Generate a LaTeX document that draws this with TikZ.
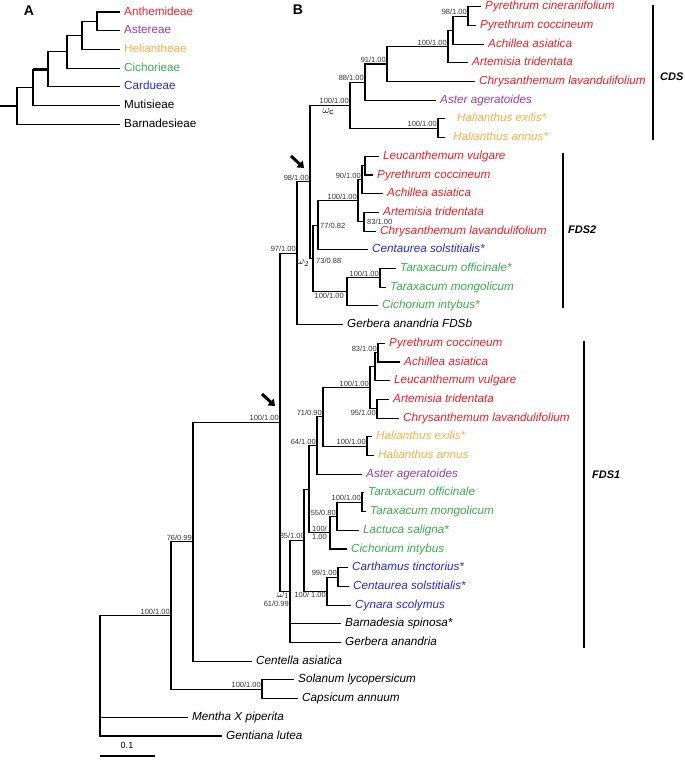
\documentclass[tikz,border=0pt]{standalone}
\usepackage{fontspec}
\setmainfont{Liberation Sans}
\usetikzlibrary{arrows.meta}

\definecolor{anth}{RGB}{236,32,40}
\definecolor{aste}{RGB}{155,60,165}
\definecolor{heli}{RGB}{247,176,72}
\definecolor{cich}{RGB}{60,172,78}
\definecolor{card}{RGB}{40,40,228}

\begin{document}
\begin{tikzpicture}[x=1pt, y=-1pt,
    br/.style={line width=1.1pt},
    thickbr/.style={line width=2.4pt},
    taxon/.style={anchor=west, inner xsep=4pt, inner ysep=0pt, text height=8pt, text depth=2pt, font=\fontsize{11.7}{13}\selectfont\itshape},
    tribe/.style={taxon, font=\fontsize{11.7}{13}\selectfont},
    bs/.style={anchor=south east, inner sep=1pt, font=\fontsize{7.5}{8}\selectfont, text=black!80},
    bsbelow/.style={bs, anchor=north east},
    bsright/.style={bs, anchor=west},
    omega/.style={inner sep=0pt, anchor=north east, font=\fontsize{11}{12}\selectfont},
    dup/.style={anchor=west, inner sep=0pt, font=\fontsize{11}{12}\selectfont\bfseries\itshape},
    pmark/.style={font=\fontsize{14}{14}\selectfont\bfseries},
    hint/.style={-{Triangle[length=6pt,width=9pt]}, line width=3pt}
]
\useasboundingbox (0,0) rectangle (685,761);

% panel A
\node[pmark] (labA) at (29,11) {A};
\coordinate (aRs) at (0,105.8);
\coordinate (aR) at (17,105.8);
\coordinate (a5) at (33,87.4);
\coordinate (a4) at (48,69.3);
\coordinate (a3) at (67,51.7);
\coordinate (a2) at (82,35.4);
\coordinate (a1) at (97,21.35);
\node[tribe, text=anth] (tAnth) at (120,12) {Anthemideae};
\node[tribe, text=aste] (tAste) at (120,30.7) {Astereae};
\node[tribe, text=heli] (tHeli) at (120,49.4) {Heliantheae};
\node[tribe, text=cich] (tCich) at (120,68.1) {Cichorieae};
\node[tribe, text=card] (tCard) at (120,86.8) {Cardueae};
\node[tribe] (tMuti) at (120,105.5) {Mutisieae};
\node[tribe] (tBarn) at (120,124.2) {Barnadesieae};

\draw[thickbr] (aRs) -- (aR);
\draw[br] (aR) |- (a5);
\draw[br] (aR) |- (tBarn.west);
\draw[br] (a5) |- (tMuti.west);
\draw[br] (a5) -- (a5 |- a4);
\draw[thickbr] (a5 |- a4) -- (a4);
\draw[br] (a4) |- (a3);
\draw[br] (a4) |- (tCard.west);
\draw[br] (a3) |- (a2);
\draw[br] (a3) |- (tCich.west);
\draw[br] (a2) |- (a1);
\draw[br] (a2) |- (tHeli.west);
\draw[br] (a1) |- (tAnth.west);
\draw[br] (a1) |- (tAste.west);

% panel B
\node[pmark] (labB) at (298,10) {B};

\coordinate (c1) at (468,16.05);
\coordinate (c2) at (453,30.1);
\coordinate (c3) at (448,46.45);
\coordinate (c4) at (387,63.98);
\coordinate (c5) at (365,82.09);
\coordinate (c6) at (438,128.25);
\coordinate (wc) at (350,105.17);
\coordinate (f1) at (365,165.65);
\coordinate (f2) at (362,179.68);
\coordinate (f3) at (364,221.75);
\coordinate (f4) at (358,200.7);
\coordinate (f5) at (318,225.25);
\coordinate (f6) at (380,277.85);
\coordinate (f7) at (347,291.88);
\coordinate (w2) at (313,258.56);
\coordinate (n98) at (310,181.87);
\coordinate (n97) at (297,253.2);
\coordinate (g1) at (378,352.65);
\coordinate (g2) at (375,366.68);
\coordinate (g3) at (377,408.75);
\coordinate (g4) at (370,387.7);
\coordinate (g5) at (367,446.15);
\coordinate (g6) at (323,416.9);
\coordinate (g7) at (317,445.55);
\coordinate (h1) at (362,502.25);
\coordinate (h2) at (337,516.3);
\coordinate (h3) at (330,532.65);
\coordinate (gx) at (309,489.1);
\coordinate (k1) at (338,577.05);
\coordinate (k2) at (327,591.08);
\coordinate (n85) at (304,540.09);
\coordinate (w1) at (290,591.3);
\coordinate (nAst) at (280,422.25);
\coordinate (n76) at (193,541.7);
\coordinate (s1) at (262,689.25);
\coordinate (n100) at (171,615.5);
\coordinate (root) at (100,675.75);

\node[taxon, text=anth] (cPcin) at (481,6.7) {Pyrethrum cinerariifolium};
\node[taxon, text=anth] (cPcoc) at (476,25.4) {Pyrethrum coccineum};
\node[taxon, text=anth] (cAchi) at (484,44.1) {Achillea asiatica};
\node[taxon, text=anth] (cArte) at (468,62.8) {Artemisia tridentata};
\node[taxon, text=anth] (cChry) at (475,81.5) {Chrysanthemum lavandulifolium};
\node[taxon, text=aste] (cAste) at (436,100.2) {Aster ageratoides};
\node[taxon, text=heli] (cHexi) at (453,118.9) {Halianthus exilis*};
\node[taxon, text=heli] (cHann) at (449,137.6) {Halianthus annus*};

\node[taxon, text=anth] (dLeuc) at (379,156.3) {Leucanthemum vulgare};
\node[taxon, text=anth] (dPcoc) at (373,175.0) {Pyrethrum coccineum};
\node[taxon, text=anth] (dAchi) at (383,193.7) {Achillea asiatica};
\node[taxon, text=anth] (dArte) at (379,212.4) {Artemisia tridentata};
\node[taxon, text=anth] (dChry) at (376,231.1) {Chrysanthemum lavandulifolium};
\node[taxon, text=card] (dCent) at (368,249.8) {Centaurea solstitialis*};
\node[taxon, text=cich] (dToff) at (396,268.5) {Taraxacum officinale*};
\node[taxon, text=cich] (dTmon) at (386,287.2) {Taraxacum mongolicum};
\node[taxon, text=cich] (dCich) at (378,305.9) {Cichorium intybus*};
\node[taxon] (dGerb) at (343,324.6) {Gerbera anandria FDSb};

\node[taxon, text=anth] (ePcoc) at (385,343.3) {Pyrethrum coccineum};
\node[taxon, text=anth] (eAchi) at (400,362.0) {Achillea asiatica};
\node[taxon, text=anth] (eLeuc) at (390,380.7) {Leucanthemum vulgare};
\node[taxon, text=anth] (eArte) at (389,399.4) {Artemisia tridentata};
\node[taxon, text=anth] (eChry) at (399,418.1) {Chrysanthemum lavandulifolium};
\node[taxon, text=heli] (eHexi) at (372,436.8) {Halianthus exilis*};
\node[taxon, text=heli] (eHann) at (374,455.5) {Halianthus annus};
\node[taxon, text=aste] (eAste) at (362,474.2) {Aster ageratoides};
\node[taxon, text=cich] (eToff) at (364,492.9) {Taraxacum officinale};
\node[taxon, text=cich] (eTmon) at (366,511.6) {Taraxacum mongolicum};
\node[taxon, text=cich] (eLact) at (359,530.3) {Lactuca saligna*};
\node[taxon, text=cich] (eCich) at (347,549.0) {Cichorium intybus};
\node[taxon, text=card] (eCart) at (348,567.7) {Carthamus tinctorius*};
\node[taxon, text=card] (eCent) at (349,586.4) {Centaurea solstitialis*};
\node[taxon, text=card] (eCyna) at (351,605.1) {Cynara scolymus};
\node[taxon] (eBarn) at (341,623.8) {Barnadesia spinosa*};
\node[taxon] (eGerb) at (341,642.5) {Gerbera anandria};
\node[taxon] (oCent) at (252,661.2) {Centella asiatica};
\node[taxon] (oSola) at (294,679.9) {Solanum lycopersicum};
\node[taxon] (oCaps) at (298,698.6) {Capsicum annuum};
\node[taxon] (oMent) at (188,717.3) {Mentha X piperita};
\node[taxon] (oGent) at (222,736.0) {Gentiana lutea};

\draw[br] (c1) |- (cPcin.west);
\draw[br] (c1) |- (cPcoc.west);
\draw[br] (c2) |- (c1);
\draw[br] (c2) |- (cAchi.west);
\draw[br] (c3) |- (c2);
\draw[br] (c3) |- (cArte.west);
\draw[br] (c4) |- (c3);
\draw[br] (c4) |- (cChry.west);
\draw[br] (c5) |- (c4);
\draw[br] (c5) |- (cAste.west);
\draw[br, shorten >=8pt] (c6) |- (cHexi.west);
\draw[br, shorten >=4pt] (c6) |- (cHann.west);
\draw[br] (wc) |- (c5);
\draw[br] (wc) |- (c6);

\draw[br] (f1) |- (dLeuc.west);
\draw[br] (f1) |- (dPcoc.west);
\draw[br] (f2) |- (f1);
\draw[br] (f2) |- (dAchi.west);
\draw[br] (f3) |- (dArte.west);
\draw[br] (f3) |- (dChry.west);
\draw[br] (f4) |- (f2);
\draw[br] (f4) |- (f3);
\draw[br] (f5) |- (f4);
\draw[br] (f5) |- (dCent.west);
\draw[br] (f6) |- (dToff.west);
\draw[br] (f6) |- (dTmon.west);
\draw[br] (f7) |- (f6);
\draw[br] (f7) |- (dCich.west);
\draw[br] (w2) |- (f5);
\draw[br] (w2) |- (f7);
\draw[br] (n98) |- (wc);
\draw[br] (n98) |- (w2);
\draw[br] (n97) |- (n98);
\draw[br] (n97) |- (dGerb.west);

\draw[br] (g1) |- (ePcoc.west);
\draw[br] (g1) |- (eAchi.west);
\draw[br] (g2) |- (g1);
\draw[br] (g2) |- (eLeuc.west);
\draw[br] (g3) |- (eArte.west);
\draw[br] (g3) |- (eChry.west);
\draw[br] (g4) |- (g2);
\draw[br] (g4) |- (g3);
\draw[br] (g5) |- (eHexi.west);
\draw[br] (g5) |- (eHann.west);
\draw[br] (g6) |- (g4);
\draw[br] (g6) |- (g5);
\draw[br] (g7) |- (g6);
\draw[br] (g7) |- (eAste.west);
\draw[br] (h1) |- (eToff.west);
\draw[br] (h1) |- (eTmon.west);
\draw[br] (h2) |- (h1);
\draw[br] (h2) |- (eLact.west);
\draw[br] (h3) |- (h2);
\draw[br] (h3) |- (eCich.west);
\draw[br] (gx) |- (g7);
\draw[br] (gx) |- (h3);
\draw[br] (k1) |- (eCart.west);
\draw[br] (k1) |- (eCent.west);
\draw[br] (k2) |- (k1);
\draw[br] (k2) |- (eCyna.west);
\draw[br] (n85) |- (gx);
\draw[br] (n85) |- (k2);
\draw[br] (w1) |- (n85);
\draw[br] (w1) |- (eBarn.west);
\draw[br] (w1) |- (eGerb.west);
\draw[br] (nAst) |- (n97);
\draw[br] (nAst) |- (w1);
\draw[br] (n76) |- (nAst);
\draw[br] (n76) |- (oCent.west);
\draw[br] (s1) |- (oSola.west);
\draw[br] (s1) |- (oCaps.west);
\draw[br] (n100) |- (n76);
\draw[br] (n100) |- (s1);
\draw[br] (root) |- (n100);
\draw[br] (root) |- (oMent.west);
\draw[br] (root) |- (oGent.west);

\node[bs] (l1) at (c1) {98/1.00};
\node[bs] (l2) at (c3) {100/1.00};
\node[bs] (l3) at (c4) {91/1.00};
\node[bs] (l4) at (c5) {88/1.00};
\node[bs] (l5) at (wc) {100/1.00};
\node[omega] (oc) at ([xshift=-16pt, yshift=-3pt]wc) {$\omega_{\mathrm{c}}$};
\node[bs] (l6) at (c6) {100/1.00};
\node[bs] (l7) at (f2) {90/1.00};
\node[bs] (l8) at (f4) {100/1.00};
\node[bsright] (l9) at ([xshift=2pt]f3) {83/1.00};
\node[bsright] (l10) at ([xshift=1pt, yshift=-1pt]f5) {77/0.82};
\node[bsright] (l11) at ([xshift=2pt, yshift=-2pt]w2) {73/0.88};
\node[omega] (o2) at ([xshift=-4pt, yshift=-1pt]w2) {$\omega_{2}$};
\node[bsbelow] (l12) at ([xshift=-2pt]f7) {100/1.00};
\node[bs] (l13) at (f6) {100/1.00};
\node[bs] (l14) at (n98) {98/1.00};
\node[bs] (l15) at (n97) {97/1.00};
\node[bs] (l16) at (g1) {83/1.00};
\node[bs] (l17) at (g4) {100/1.00};
\node[bsbelow] (l18) at (g3) {95/1.00};
\node[bs] (l19) at (g5) {100/1.00};
\node[bs] (l20) at (g6) {71/0.90};
\node[bs] (l21) at (g7) {64/1.00};
\node[bs] (l22) at (h1) {100/1.00};
\node[bs] (l23) at (h2) {55/0.80};
\node[bs] (l24) at ([xshift=-2pt]h3) {100/};
\node[bsbelow] (l25) at ([xshift=-2pt]h3) {1.00};
\node[bs] (l26) at ([xshift=2pt]n85) {85/1.00};
\node[bs] (l27) at (k1) {99/1.00};
\node[bsbelow] (l28) at (k2) {100/ 1.00};
\node[omega] (o1) at ([xshift=-1pt, yshift=-1pt]w1) {$\omega_{1}$};
\node[bsbelow] (l29) at ([yshift=-9pt]w1) {61/0.99};
\node[bs] (l30) at (nAst) {100/1.00};
\node[bs] (l31) at (n76) {76/0.99};
\node[bs] (l32) at (n100) {100/1.00};
\node[bs] (l33) at (s1) {100/1.00};

\draw[hint] (291,156) -- (304,168);
\draw[hint] (262,394) -- (275,406);

\coordinate (cdsT) at (653,5);
\coordinate (cdsB) at (653,140);
\coordinate (fds2T) at (563,153);
\coordinate (fds2B) at (563,308);
\coordinate (fds1T) at (584,341);
\coordinate (fds1B) at (584,648);
\draw[br] (cdsT) -- (cdsB);
\draw[br] (fds2T) -- (fds2B);
\draw[br] (fds1T) -- (fds1B);
\node[dup] (cds) at (660,77) {CDS};
\node[dup] (fds2) at (568,230) {FDS2};
\node[dup] (fds1) at (592,475) {FDS1};

\coordinate (sbL) at (100,756);
\coordinate (sbR) at (155,756);
\draw[br] (sbL) -- (sbR);
\node[font=\fontsize{9}{10}\selectfont] (sbT) at (127,745) {0.1};
\end{tikzpicture}
\end{document}
